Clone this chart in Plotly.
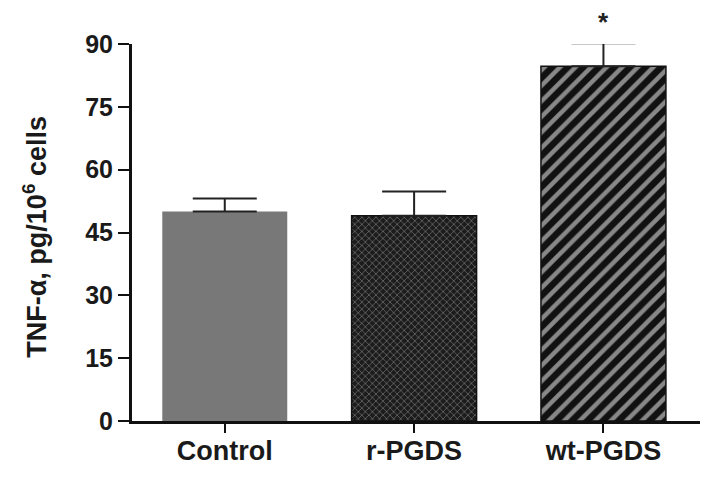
import plotly.graph_objects as go

categories = ["Control", "r-PGDS", "wt-PGDS"]
means = [50.0, 49.0, 84.7]
errors = [3.1, 5.8, 5.5]
y_ticks = [0, 15, 30, 45, 60, 75, 90]
significance = ["", "", "*"]

styles = [
    dict(color="#787878", shape="", fg="#787878", size=8, sol=0.3, line=0),
    dict(color="#1c1c1c", shape="x", fg="#e8e8e8", size=5, sol=0.22, line=1.5),
    dict(color="#111111", shape="/", fg="#ffffff", size=11, sol=0.4, line=1.5),
]

FONT = "Liberation Sans, Arial, sans-serif"

fig = go.Figure()
for i, (cat, m, e, st) in enumerate(zip(categories, means, errors, styles)):
    marker = dict(color=st["color"], line=dict(color="#111111", width=st["line"]))
    if st["shape"]:
        marker["pattern"] = dict(shape=st["shape"], fgcolor=st["fg"], size=st["size"],
                                 solidity=st["sol"], fillmode="overlay")
    fig.add_trace(go.Bar(
        x=[i], y=[m], width=0.66, marker=marker,
        error_y=dict(type="data", array=[e], arrayminus=[0], symmetric=False,
                     color="#222222", thickness=2, width=32),
        showlegend=False, name=cat,
    ))

for i, s in enumerate(significance):
    if s:
        fig.add_annotation(x=i, xref="x", y=(means[i] + errors[i]) / 90 + 0.102, yref="y domain",
                           text=s, showarrow=False, yanchor="top",
                           font=dict(size=26, color="#222", family=FONT, weight="bold"))

fig.add_annotation(x=-0.17, xref="paper", y=0.49, yref="paper",
                   text="TNF-α, pg/10<sup>6</sup> cells", textangle=-90, showarrow=False,
                   xanchor="center", yanchor="middle",
                   font=dict(size=27, color="#1a1a1a", family=FONT, weight="bold"))

# page body has an 8px default margin, so margins are reduced by 8px
fig.update_layout(
    width=713, height=482,
    margin=dict(l=124, r=21, t=36, b=69),
    paper_bgcolor="white", plot_bgcolor="white",
    font=dict(family=FONT, color="#1a1a1a"),
    barmode="overlay",
)
fig.update_xaxes(
    range=[-0.49, 2.51], tickvals=[0, 1, 2], ticktext=categories,
    showline=True, linecolor="#111", linewidth=3,
    ticks="outside", ticklen=9, tickwidth=2, tickcolor="#111",
    tickfont=dict(size=27, weight="bold", color="#1a1a1a"),
    ticklabelstandoff=-5,
    showgrid=False, zeroline=False, automargin=False,
)
fig.update_yaxes(
    range=[0, 90], tickvals=y_ticks,
    showline=True, linecolor="#111", linewidth=3,
    ticks="outside", ticklen=11, tickwidth=2, tickcolor="#111",
    tickfont=dict(size=25, weight="bold", color="#1a1a1a"),
    showgrid=False, zeroline=False, automargin=False,
)

fig.write_html("out.html")
